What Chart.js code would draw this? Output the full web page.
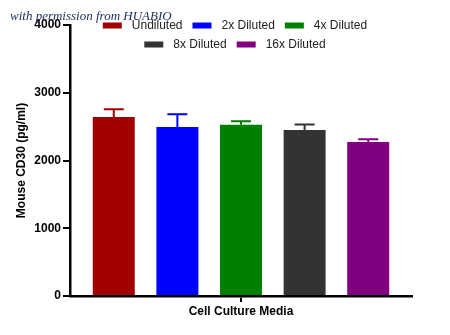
<!DOCTYPE html>
<html>
<head>
<meta charset="utf-8">
<script src="https://cdn.jsdelivr.net/npm/chart.js@4.4.0/dist/chart.umd.min.js"></script>
<style>
  html, body { margin: 0; padding: 0; background: #fff; }
  #wrap { width: 450px; height: 335px; position: relative; }
</style>
</head>
<body>
<div id="wrap"><canvas id="cd30Chart"></canvas></div>
<script>
// data
const categories = ['Cell Culture Media'];
const seriesNames = ['Undiluted', '2x Diluted', '4x Diluted', '8x Diluted', '16x Diluted'];
const seriesValues = [2642, 2494, 2529, 2450, 2273];
const seriesErrors = [115, 188, 50, 80, 42];
const seriesColors = ['#a00000', '#0000ff', '#008000', '#333333', '#800080'];
const yTicks = [0, 1000, 2000, 3000, 4000];

const FONT = 'Arial, "Liberation Sans", sans-serif';

// upward error bars (drawn through the y scale)
const errorBars = {
    id: 'errorBars',
    afterDatasetsDraw(chart) {
        const ctx = chart.ctx;
        const y = chart.scales.y;
        chart.data.datasets.forEach((ds, i) => {
            const meta = chart.getDatasetMeta(i);
            meta.data.forEach((bar, j) => {
                const top = y.getPixelForValue(ds.data[j] + ds.errors[j]);
                const base = y.getPixelForValue(ds.data[j]);
                ctx.save();
                ctx.strokeStyle = ds.backgroundColor;
                ctx.lineWidth = 2;
                ctx.beginPath();
                ctx.moveTo(bar.x, base);
                ctx.lineTo(bar.x, top);
                ctx.moveTo(bar.x - 10, top);
                ctx.lineTo(bar.x + 10, top);
                ctx.stroke();
                ctx.restore();
            });
        });
    }
};

// legend drawn over the plot, two centred rows
const overlayLegend = {
    id: 'overlayLegend',
    afterDraw(chart) {
        const ctx = chart.ctx;
        ctx.save();
        ctx.font = '12px ' + FONT;
        ctx.textBaseline = 'middle';
        const items = chart.data.datasets.map(ds => ({
            text: ds.label, color: ds.backgroundColor,
            w: 19 + 10 + ctx.measureText(ds.label).width
        }));
        const rows = [[]];
        let rw = 0;
        items.forEach(it => {
            const add = (rows[rows.length - 1].length ? 10 : 0) + it.w;
            if (rw + add > 300) { rows.push([it]); rw = it.w; }
            else { rows[rows.length - 1].push(it); rw += add; }
        });
        const cx = 235;
        rows.forEach((row, r) => {
            const total = row.reduce((s, it) => s + it.w, 0) + 10 * (row.length - 1);
            let x = cx - total / 2;
            const yy = 25.5 + r * 19;
            row.forEach(it => {
                ctx.fillStyle = it.color;
                ctx.fillRect(x, yy - 3, 19, 6);
                ctx.fillStyle = '#222';
                ctx.fillText(it.text, x + 29, yy);
                x += it.w + 10;
            });
        });
        // watermark
        ctx.font = 'italic 13px "Liberation Serif", "DejaVu Serif", serif';
        ctx.fillStyle = '#1b2b5e';
        ctx.textBaseline = 'alphabetic';
        ctx.fillText('with permission from HUABIO', 10, 20);
        ctx.restore();
    }
};

new Chart(document.getElementById('cd30Chart'), {
    type: 'bar',
    data: {
        labels: categories,
        datasets: seriesNames.map((name, i) => ({
            label: name,
            data: [seriesValues[i]],
            errors: [seriesErrors[i]],
            backgroundColor: seriesColors[i],
            borderWidth: 0,
            categoryPercentage: 0.93,
            barPercentage: 0.66
        }))
    },
    options: {
        responsive: true,
        maintainAspectRatio: false,
        animation: false,
        layout: { padding: { left: 14, right: 38, top: 25, bottom: 0 } },
        plugins: { legend: { display: false }, tooltip: { enabled: false } },
        scales: {
            x: {
                afterFit(scale) { scale.height = 39; },
                grid: { drawOnChartArea: false, offset: false, tickLength: 6, lineWidth: 2, color: '#000' },
                border: { color: '#000', width: 2.5 },
                ticks: { color: '#000', font: { family: FONT, size: 12, weight: 'bold' }, padding: 2 }
            },
            y: {
                min: 0,
                max: 4000,
                afterFit(scale) { scale.width = 56; },
                afterBuildTicks(scale) { scale.ticks = yTicks.map(v => ({ value: v })); },
                grid: { drawOnChartArea: false, tickLength: 7, lineWidth: 2, color: '#000' },
                border: { color: '#000', width: 2.5 },
                ticks: {
                    color: '#000', font: { family: FONT, size: 12, weight: 'bold' }, padding: 2,
                    callback: v => String(v)
                },
                title: {
                    display: true, text: 'Mouse CD30 (pg/ml)', color: '#000',
                    font: { family: FONT, size: 12, weight: 'bold' }, padding: { top: 0, bottom: 0 }
                }
            }
        }
    },
    plugins: [errorBars, overlayLegend]
});
</script>
</body>
</html>
